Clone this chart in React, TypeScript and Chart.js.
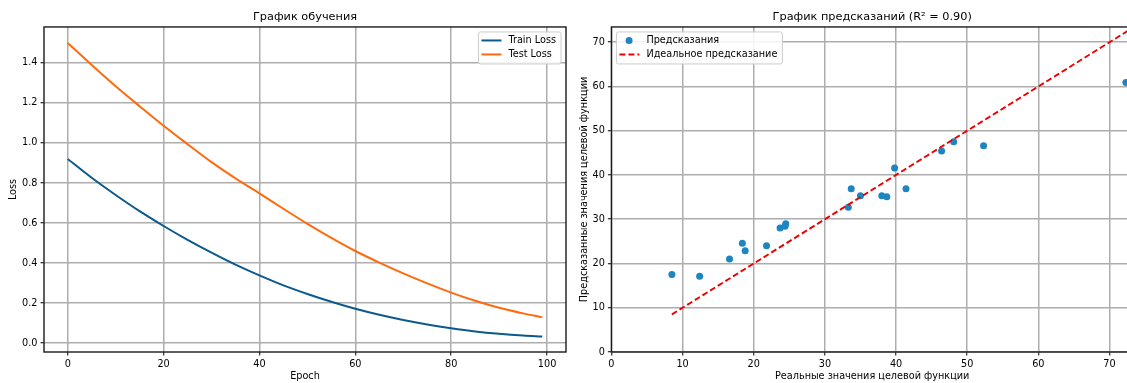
import React, { useEffect, useRef } from 'react';
import { Chart, registerables } from 'chart.js';
Chart.register(...registerables);

// ---------- data ----------
const epochs = [0, 5, 10, 15, 20, 25, 30, 35, 40, 45, 50, 55, 60, 65, 70, 75, 80, 85, 90, 95, 99];
const trainLoss = [0.92, 0.826, 0.74, 0.659, 0.585, 0.516, 0.452, 0.392, 0.338, 0.288, 0.245, 0.206, 0.171, 0.141, 0.115, 0.093, 0.074, 0.058, 0.046, 0.037, 0.032];
const testLoss = [1.5, 1.39, 1.284, 1.184, 1.086, 0.994, 0.904, 0.823, 0.748, 0.671, 0.596, 0.526, 0.46, 0.402, 0.348, 0.298, 0.252, 0.211, 0.176, 0.148, 0.128];
const epochTicks = [0, 20, 40, 60, 80, 100];
const lossTicks = [0, 0.2, 0.4, 0.6, 0.8, 1.0, 1.2, 1.4];

const actualValues = [8.5, 12.4, 16.6, 18.4, 18.8, 21.8, 23.7, 24.4, 24.5, 33.3, 33.7, 35.0, 38.0, 38.7, 39.8, 41.4, 46.4, 48.1, 52.3, 72.3];
const predictedValues = [17.5, 17.1, 21.0, 24.6, 22.9, 24.0, 28.0, 28.4, 29.0, 32.7, 36.9, 35.3, 35.3, 35.1, 41.6, 36.9, 45.4, 47.5, 46.6, 60.9];
const idealRange = [8.5, 72.6];
const predTicks = [0, 10, 20, 30, 40, 50, 60, 70];

const FONT = 'DejaVu Sans';
const FS = 9.7;

const framePlugin = {
  id: 'frame',
  afterDatasetsDraw(chart: any) {
    const a = chart.chartArea;
    const ctx = chart.ctx;
    ctx.save();
    ctx.strokeStyle = '#1a1a1a';
    ctx.lineWidth = 1.4;
    ctx.strokeRect(a.left, a.top, a.right - a.left, a.bottom - a.top);
    ctx.restore();
  },
};

const boxLegendPlugin = {
  id: 'boxLegend',
  afterDraw(chart: any, _args: any, opts: any) {
    const corner = opts && opts.corner;
    if (!corner) return;
    const ctx = chart.ctx;
    const a = chart.chartArea;
    const ds = chart.data.datasets;
    ctx.save();
    ctx.font = `${FS}px "${FONT}"`;
    const tw = Math.max(...ds.map((d: any) => ctx.measureText(d.label).width));
    const w = 30 + tw + 5;
    const h = 32;
    const x = corner === 'ne' ? a.right - 5 - w : a.left + 5;
    const y = a.top + 5;
    ctx.beginPath();
    (ctx as any).roundRect(x, y, w, h, 2);
    ctx.fillStyle = 'rgba(255,255,255,0.85)';
    ctx.fill();
    ctx.strokeStyle = '#cccccc';
    ctx.lineWidth = 1;
    ctx.stroke();
    ds.forEach((d: any, k: number) => {
      const cy = y + 8.5 + k * 14;
      if (d.legendKind === 'point') {
        ctx.beginPath();
        ctx.arc(x + 12.7, cy, 3.5, 0, Math.PI * 2);
        ctx.fillStyle = d.backgroundColor;
        ctx.fill();
      } else {
        ctx.beginPath();
        ctx.setLineDash(d.borderDash || []);
        ctx.moveTo(x + 3, cy);
        ctx.lineTo(x + 23, cy);
        ctx.strokeStyle = d.borderColor;
        ctx.lineWidth = d.borderWidth;
        ctx.stroke();
        ctx.setLineDash([]);
      }
      ctx.fillStyle = '#000';
      ctx.textBaseline = 'middle';
      ctx.textAlign = 'left';
      ctx.fillText(d.label, x + 30, cy);
    });
    ctx.restore();
  },
};

function setTicks(values: number[]) {
  return (scale: any) => {
    scale.ticks = values.map((v) => ({ value: v }));
  };
}

function axis(opts: any) {
  return {
    type: 'linear',
    min: opts.min,
    max: opts.max,
    afterBuildTicks: setTicks(opts.ticks),
    afterFit: opts.afterFit,
    grid: {
      color: '#adadad',
      lineWidth: 1.5,
      drawTicks: true,
      tickLength: 3.5,
      tickColor: '#000',
      tickWidth: 1,
    },
    border: { display: false },
    ticks: {
      color: '#000',
      padding: 3,
      maxRotation: 0,
      autoSkip: false,
      font: { family: FONT, size: FS },
      callback: opts.fmt,
    },
    title: {
      display: true,
      text: opts.title,
      color: '#000',
      font: { family: FONT, size: FS },
      padding: opts.titlePadding,
    },
  };
}

function titleOpts(text: string) {
  return {
    display: true,
    text,
    fullSize: false,
    color: '#000',
    font: { family: FONT, size: 11.3, weight: 'normal' },
    padding: { top: 10.5, bottom: 2.9 },
  };
}

export default function App() {
  const leftRef = useRef<HTMLCanvasElement>(null);
  const rightRef = useRef<HTMLCanvasElement>(null);

  useEffect(() => {
    const left = new Chart(leftRef.current as HTMLCanvasElement, {
      type: 'line',
      data: {
        datasets: [
          {
            label: 'Train Loss',
            data: epochs.map((e, i) => ({ x: e, y: trainLoss[i] })),
            borderColor: '#0b5a8e',
            backgroundColor: '#0b5a8e',
            borderWidth: 2,
            pointRadius: 0,
            cubicInterpolationMode: 'monotone',
            legendKind: 'line',
          } as any,
          {
            label: 'Test Loss',
            data: epochs.map((e, i) => ({ x: e, y: testLoss[i] })),
            borderColor: '#ff6a0e',
            backgroundColor: '#ff6a0e',
            borderWidth: 2,
            pointRadius: 0,
            cubicInterpolationMode: 'monotone',
            legendKind: 'line',
          } as any,
        ],
      },
      options: {
        animation: false,
        responsive: false,
        devicePixelRatio: 1,
        layout: { padding: { left: 0, right: 9, top: 0, bottom: 0 } },
        plugins: {
          legend: { display: false },
          tooltip: { enabled: false },
          title: titleOpts('График обучения') as any,
          boxLegend: { corner: 'ne' },
        } as any,
        scales: {
          x: axis({
            min: -4.95,
            max: 103.95,
            ticks: epochTicks,
            fmt: (v: any) => String(v),
            title: 'Epoch',
            titlePadding: { top: 0, bottom: 1 },
            afterFit: (s: any) => { s.height = 31; },
          }),
          y: axis({
            min: -0.045,
            max: 1.58,
            ticks: lossTicks,
            fmt: (v: any) => Number(v).toFixed(1),
            title: 'Loss',
            titlePadding: { top: 8, bottom: 0 },
            afterFit: (s: any) => { s.width = 44; },
          }),
        } as any,
      },
      plugins: [framePlugin, boxLegendPlugin],
    } as any);

    const right = new Chart(rightRef.current as HTMLCanvasElement, {
      type: 'scatter',
      data: {
        datasets: [
          {
            label: 'Предсказания',
            data: actualValues.map((v, i) => ({ x: v, y: predictedValues[i] })),
            backgroundColor: '#1d85c1',
            borderColor: '#1d85c1',
            borderWidth: 0,
            pointRadius: 3.5,
            order: 1,
            legendKind: 'point',
          } as any,
          {
            label: 'Идеальное предсказание',
            data: idealRange.map((v) => ({ x: v, y: v })),
            showLine: true,
            borderColor: '#ee0000',
            backgroundColor: '#ee0000',
            borderWidth: 1.9,
            borderDash: [6, 3],
            pointRadius: 0,
            order: 0,
            legendKind: 'dash',
          } as any,
        ],
      },
      options: {
        animation: false,
        responsive: false,
        devicePixelRatio: 1,
        layout: { padding: { left: 0, right: 10, top: 0, bottom: 0 } },
        plugins: {
          legend: { display: false },
          tooltip: { enabled: false },
          title: titleOpts('График предсказаний (R² = 0.90)') as any,
          boxLegend: { corner: 'nw' },
        } as any,
        scales: {
          x: axis({
            min: 0,
            max: 73.3,
            ticks: predTicks,
            fmt: (v: any) => String(v),
            title: 'Реальные значения целевой функции',
            titlePadding: { top: 0, bottom: 1 },
            afterFit: (s: any) => { s.height = 31; },
          }),
          y: axis({
            min: 0,
            max: 73.45,
            ticks: predTicks,
            fmt: (v: any) => String(v),
            title: 'Предсказанные значения целевой функции',
            titlePadding: { top: 6.3, bottom: 0 },
            afterFit: (s: any) => { s.width = 39.4; },
          }),
        } as any,
      },
      plugins: [framePlugin, boxLegendPlugin],
    } as any);

    return () => {
      left.destroy();
      right.destroy();
    };
  }, []);

  return (
    <div
      style={{
        position: 'fixed',
        left: 0,
        top: 0,
        width: 1127,
        height: 383,
        overflow: 'hidden',
        background: '#fff',
      }}
    >
      <canvas
        ref={leftRef}
        width={575}
        height={383}
        style={{ position: 'absolute', left: 0, top: 0, width: 575, height: 383 }}
      />
      <canvas
        ref={rightRef}
        width={571}
        height={383}
        style={{ position: 'absolute', left: 572, top: 0, width: 571, height: 383 }}
      />
    </div>
  );
}
